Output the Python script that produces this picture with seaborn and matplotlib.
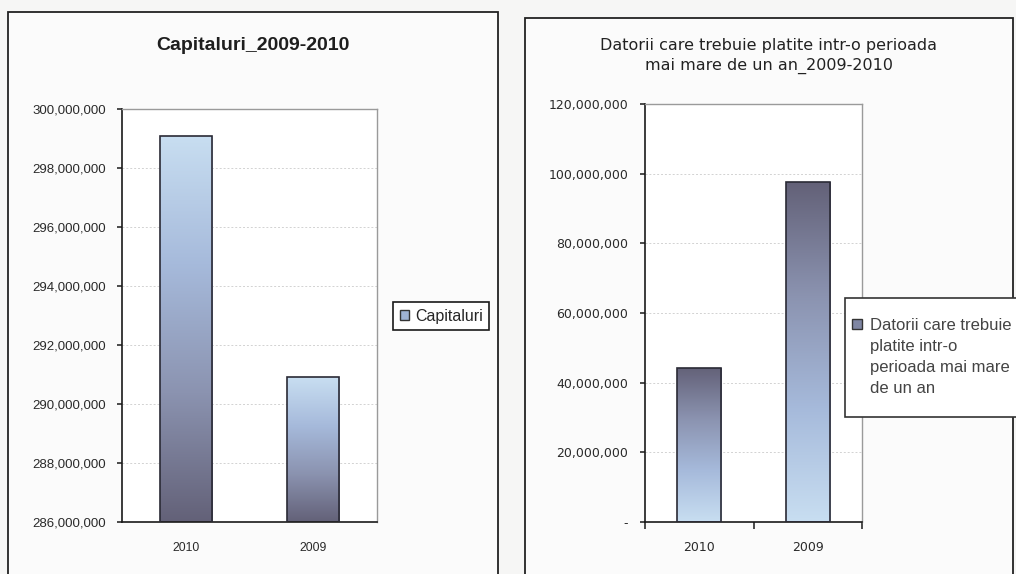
import numpy as np
import pandas as pd
import matplotlib
matplotlib.use("Agg")
import matplotlib.pyplot as plt
from matplotlib.colors import LinearSegmentedColormap
from matplotlib.patches import Rectangle, Patch
from matplotlib.ticker import FuncFormatter, FixedLocator
from matplotlib.legend_handler import HandlerBase
import seaborn as sns

# ---- data ----
years = ["2010", "2009"]
capitaluri = [299_100_000, 290_900_000]
datorii = [44_300_000, 97_500_000]

cap_title = "Capitaluri_2009-2010"
dat_title = "Datorii care trebuie platite intr-o perioada\nmai mare de un an_2009-2010"
cap_label = "Capitaluri"
dat_label = "Datorii care trebuie\nplatite intr-o\nperioada mai mare\nde un an"

cap_ticks = [286_000_000, 288_000_000, 290_000_000, 292_000_000,
             294_000_000, 296_000_000, 298_000_000, 300_000_000]
dat_ticks = [0, 20_000_000, 40_000_000, 60_000_000, 80_000_000,
             100_000_000, 120_000_000]

sns.set_theme(style="white")
plt.rcParams["font.family"] = ["Liberation Sans", "DejaVu Sans"]

PAPER = "#f6f6f5"
grad = LinearSegmentedColormap.from_list(
    "bars", ["#636178", "#8b93b0", "#a6badb", "#c8def1"])

fig = plt.figure(figsize=(10.16, 5.74), dpi=100, facecolor=PAPER)

# chart frames
W, H = 1016, 574
def px_rect(x0, y0, x1, y1, **kw):
    return Rectangle((x0 / W, 1 - y1 / H), (x1 - x0) / W, (y1 - y0) / H,
                     transform=fig.transFigure, **kw)

fig.patches.append(px_rect(8, 12, 498, 590, fill=True, facecolor="#fbfbfb",
                           edgecolor="#222222", lw=1.3, zorder=-5))
fig.patches.append(px_rect(525, 18, 1013, 590, fill=True, facecolor="#fbfbfb",
                           edgecolor="#222222", lw=1.3, zorder=-5))


class TopSquareHandler(HandlerBase):
    """Small square key placed beside the first line of a multi-line label."""

    def __init__(self, rise, size, shift):
        super().__init__()
        self.rise, self.size, self.shift = rise, size, shift

    def create_artists(self, legend, orig_handle, xdescent, ydescent,
                       width, height, fontsize, trans):
        s = self.size * fontsize
        y = self.rise * fontsize
        x = -xdescent - self.shift * fontsize
        sq = Rectangle((x, y), s, s, facecolor=orig_handle.get_facecolor(),
                       edgecolor=orig_handle.get_edgecolor(),
                       lw=orig_handle.get_linewidth(), transform=trans)
        return [sq]


def gradient_bars(ax, light_on_top):
    """Replace flat bar fills by a vertical gradient clipped to each bar."""
    lo = ax.get_ylim()[0]
    ramp = np.linspace(0, 1, 256).reshape(-1, 1)
    if not light_on_top:
        ramp = ramp[::-1]
    for bar in ax.patches:
        x0 = bar.get_x()
        x1 = x0 + bar.get_width()
        y1 = bar.get_y() + bar.get_height()
        y0 = max(bar.get_y(), lo)
        bar.set_facecolor("none")
        bar.set_edgecolor("#2a2a35")
        bar.set_linewidth(1.2)
        bar.set_zorder(3)
        im = ax.imshow(ramp, cmap=grad, extent=[x0, x1, y0, y1],
                       origin="lower", aspect="auto", zorder=2,
                       interpolation="bicubic")
        im.set_clip_path(bar)


def style_axes(ax, ticks, fmt, tick_font, ysize, xsize, pad_y, pad_x):
    ax.set_facecolor("white")
    ax.yaxis.set_major_locator(FixedLocator(ticks))
    ax.yaxis.set_major_formatter(FuncFormatter(fmt))
    ax.set_ylim(ticks[0], ticks[-1])
    ax.set_xlim(-0.5, 1.5)
    ax.set_xlabel("")
    ax.set_ylabel("")
    for s in ("top", "right"):
        ax.spines[s].set_color("#9a9a9a")
        ax.spines[s].set_linewidth(1.0)
    for s in ("left", "bottom"):
        ax.spines[s].set_color("#1a1a1a")
        ax.spines[s].set_linewidth(1.2)
    ax.grid(axis="y", color="#d2d2d2", lw=0.7, ls=(0, (2, 2)), zorder=0)
    ax.set_axisbelow(True)
    ax.tick_params(axis="y", left=True, length=3.6, width=1.1,
                   color="#1a1a1a", pad=pad_y, labelsize=ysize,
                   labelcolor="#2a2a2a")
    ax.tick_params(axis="x", bottom=False, pad=pad_x, labelsize=xsize,
                   labelcolor="#2a2a2a")
    for lab in ax.get_yticklabels() + ax.get_xticklabels():
        lab.set_family(tick_font)


# ---- left chart: Capitaluri ----
ax1 = fig.add_axes([122 / W, 1 - 522 / H, 255 / W, 413 / H])
df1 = pd.DataFrame({"an": years, "valoare": capitaluri})
sns.barplot(data=df1, x="an", y="valoare", ax=ax1, width=0.41,
            color="#a6badb", saturation=1)
style_axes(ax1, cap_ticks, lambda v, p: f"{v:,.0f}", "Liberation Sans",
           9.5, 8.8, 8, 8.7)
gradient_bars(ax1, light_on_top=True)
ax1.set_ylim(cap_ticks[0], cap_ticks[-1])
ax1.set_xlim(-0.5, 1.5)

fig.text(253 / W, 1 - 45 / H, cap_title, ha="center", va="center",
         fontsize=14, fontweight="bold", color="#1e1e1e",
         family="Liberation Sans")

leg1 = ax1.legend(handles=[Patch(facecolor="#9fb2d3", edgecolor="#333333",
                                 lw=1.0)],
                  labels=[cap_label], loc="upper left",
                  bbox_to_anchor=(393 / W, 1 - 302 / H),
                  bbox_transform=fig.transFigure, borderaxespad=0,
                  frameon=True, fancybox=False, framealpha=1,
                  edgecolor="#1a1a1a", facecolor="white", borderpad=0.42,
                  handlelength=0.6, handleheight=0.6, handletextpad=0.35,
                  prop={"family": "Liberation Sans", "size": 11.5})
leg1.get_frame().set_linewidth(1.2)

# ---- right chart: Datorii pe termen lung ----
ax2 = fig.add_axes([645 / W, 1 - 522 / H, 217 / W, 418 / H])
df2 = pd.DataFrame({"an": years, "valoare": datorii})
sns.barplot(data=df2, x="an", y="valoare", ax=ax2, width=0.41,
            color="#a6badb", saturation=1)
style_axes(ax2, dat_ticks,
           lambda v, p: "-" if v == 0 else f"{v:,.0f}", "DejaVu Sans",
           9, 9, 8.6, 7.5)
ax2.set_ylim(dat_ticks[0], dat_ticks[-1])
gradient_bars(ax2, light_on_top=False)
ax2.set_ylim(dat_ticks[0], dat_ticks[-1])
ax2.set_xlim(-0.5, 1.5)
# category separators on the x axis
ax2.xaxis.set_minor_locator(FixedLocator([-0.5, 0.5, 1.5]))
ax2.tick_params(axis="x", which="minor", bottom=True, length=5, width=1.1,
                color="#1a1a1a")

fig.text(769 / W, 1 - 56 / H, dat_title, ha="center", va="center",
         fontsize=11.5, color="#222222", family="DejaVu Sans",
         linespacing=1.45)

key2 = Patch(facecolor="#7f86a3", edgecolor="#333333", lw=1.0)
leg2 = ax2.legend(handles=[key2], labels=[dat_label], loc="upper left",
                  bbox_to_anchor=(845 / W, 1 - 298 / H),
                  bbox_transform=fig.transFigure, borderaxespad=0,
                  frameon=True, fancybox=False, framealpha=1,
                  edgecolor="#333333", facecolor="white", borderpad=1.22,
                  handlelength=0.05, handleheight=0.7, handletextpad=0.2,
                  handler_map={Patch: TopSquareHandler(2.05, 0.58, 0.8)},
                  prop={"family": "Liberation Sans", "size": 12})
leg2.get_frame().set_linewidth(1.2)
for t in leg2.get_texts():
    t.set_color("#444444")
    t.set_linespacing(1.5)

fig.savefig("out.png", dpi=100, facecolor=PAPER)
